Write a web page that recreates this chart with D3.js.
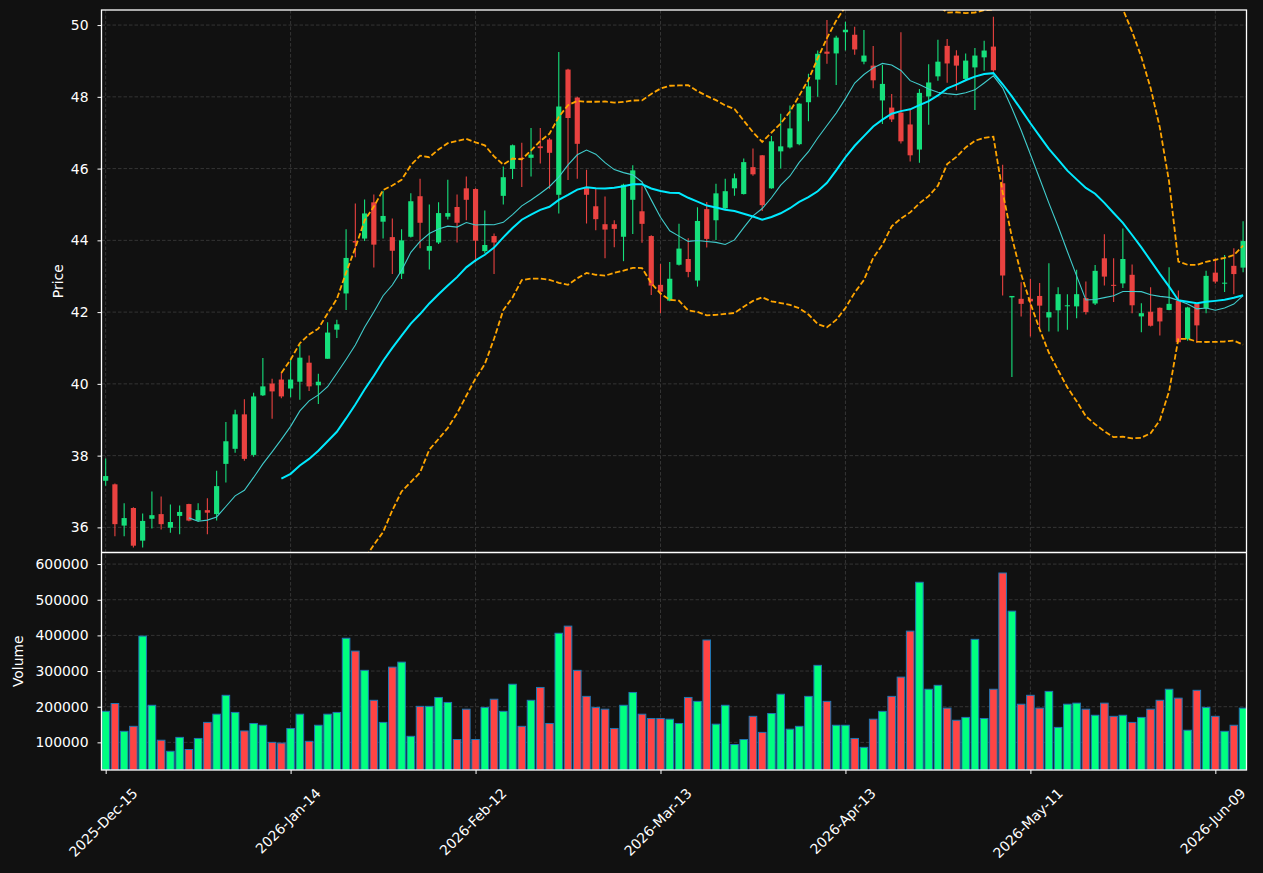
<!DOCTYPE html>
<html>
<head>
<meta charset="utf-8">
<script src="https://cdn.jsdelivr.net/npm/d3@7"></script>
<style>
  body { margin: 0; background: #111111; }
  svg { display: block; }
  text { font-family: "DejaVu Sans", sans-serif; }
</style>
</head>
<body>
<div id="chart"></div>
<script>
// candle data, one entry per trading bar
var opens = [37.30,37.20,36.05,36.54,35.63,36.24,36.37,35.99,36.32,36.65,36.19,36.48,36.37,37.77,38.19,39.15,38.02,39.68,40.01,40.12,
  39.87,40.06,40.59,39.96,40.70,41.51,42.52,43.98,44.05,45.06,44.52,44.09,43.07,44.10,45.23,43.71,43.94,44.66,44.93,45.45,
  45.43,43.70,44.12,45.24,45.99,46.30,46.30,46.62,46.81,45.27,48.76,47.98,45.46,44.95,44.45,44.45,44.10,45.13,44.81,44.12,
  42.76,42.32,43.32,43.48,42.88,44.87,44.56,44.89,45.45,45.29,46.04,46.37,45.45,46.48,46.59,46.68,47.85,48.48,49.26,49.21,
  49.80,49.73,48.98,48.87,47.90,47.70,47.56,47.23,46.53,48.01,48.57,49.42,49.15,48.50,48.82,49.10,49.40,45.59,42.41,42.37,
  42.37,42.45,41.85,42.05,42.17,42.16,42.39,42.24,43.50,42.76,42.80,43.04,41.88,42.01,42.12,42.06,42.32,41.25,42.23,42.11,
  43.10,42.81,43.29,43.24];
var highs = [37.92,37.22,36.67,36.56,36.39,37.00,36.86,36.64,36.61,36.66,36.67,36.81,37.58,38.94,39.28,39.57,39.75,40.72,40.14,40.32,
  40.70,41.09,40.79,40.28,41.72,41.79,44.31,45.03,45.14,45.28,45.38,44.61,44.31,45.31,45.72,45.00,45.06,45.69,45.28,45.78,
  45.45,44.83,44.19,46.06,46.67,46.72,47.13,47.13,46.85,49.25,48.78,48.00,45.97,45.43,45.22,44.56,45.58,46.09,45.51,44.14,
  43.34,43.40,44.46,44.06,44.92,45.07,45.58,45.72,45.86,46.28,46.56,46.38,46.91,47.53,47.76,47.82,48.64,49.29,50.14,49.70,
  50.09,49.95,49.86,49.42,48.89,48.08,49.80,47.63,48.22,48.91,49.59,49.61,49.30,49.21,49.36,49.56,50.23,46.11,42.45,42.83,
  42.93,42.81,43.36,42.69,42.50,43.18,42.85,43.31,44.17,43.50,44.33,43.33,42.25,42.69,42.13,43.25,42.60,42.15,42.25,43.15,
  43.50,43.59,43.78,44.53];
var lows = [37.16,35.75,35.75,35.44,35.44,35.97,35.94,35.85,35.81,36.17,36.16,35.81,36.19,37.25,38.08,37.86,37.97,39.66,39.03,39.60,
  39.63,39.56,39.80,39.44,40.70,41.28,42.06,43.53,43.98,43.24,44.05,43.06,42.92,44.08,43.78,43.19,43.90,44.58,43.94,44.56,
  43.39,43.64,43.06,45.00,45.71,45.49,45.78,46.14,45.44,44.75,45.68,45.72,44.47,44.28,43.50,43.81,43.42,44.18,43.93,42.48,
  41.97,42.30,43.30,42.97,42.71,43.80,44.01,44.85,45.24,45.28,45.80,44.82,45.44,46.00,46.56,46.65,47.32,48.00,48.92,48.33,
  49.29,49.17,48.91,48.24,47.24,47.30,46.70,46.20,46.16,47.22,48.45,48.39,48.18,48.45,47.63,48.73,48.70,42.46,40.19,41.88,
  41.32,41.56,41.46,41.46,41.51,41.83,41.93,42.20,42.74,42.28,42.67,41.97,41.44,41.60,41.35,42.05,41.15,41.20,41.14,41.97,
  42.80,42.56,42.50,43.11];
var closes = [37.43,36.09,36.26,35.49,36.18,36.34,36.09,36.15,36.43,36.19,36.48,36.41,37.15,38.40,39.15,37.91,39.65,39.93,39.79,39.65,
  40.12,40.73,39.93,40.06,41.43,41.66,43.51,43.94,44.75,43.88,44.68,43.71,44.00,45.09,44.49,43.84,44.76,44.76,44.49,45.13,
  43.99,43.87,43.94,45.76,46.65,46.27,46.39,46.57,46.44,47.73,47.41,46.69,45.27,44.59,44.30,44.32,45.55,45.95,44.46,42.74,
  42.57,42.93,43.77,43.12,44.54,44.04,45.31,45.37,45.73,46.18,45.84,44.98,46.76,46.62,47.12,47.81,48.29,49.20,49.20,49.65,
  49.87,49.32,49.15,48.46,48.36,47.37,46.76,46.37,48.11,48.40,48.98,48.93,48.87,49.01,49.15,49.29,48.74,43.02,42.45,42.23,
  42.30,42.18,42.00,42.50,42.19,42.50,42.00,43.15,42.99,42.74,43.48,42.19,41.97,41.62,41.74,42.23,41.16,42.13,41.63,43.01,
  42.85,42.82,43.06,43.98];
var volumes = [187000,209000,131000,145000,398000,204000,106000,75000,114000,80000,111000,156000,179000,232000,184000,132000,153000,148000,100000,98000,
  139000,179000,103000,148000,179000,184000,392000,356000,302000,218000,156000,311000,325000,117000,201000,201000,226000,212000,108000,193000,
  108000,198000,221000,187000,263000,145000,218000,254000,153000,406000,426000,302000,229000,198000,193000,139000,204000,240000,179000,167000,
  167000,165000,153000,226000,215000,387000,151000,204000,94000,108000,173000,128000,181000,235000,137000,145000,229000,316000,215000,148000,
  148000,111000,86000,165000,187000,229000,283000,412000,549000,249000,260000,196000,162000,170000,389000,167000,249000,575000,468000,207000,
  232000,196000,243000,142000,207000,210000,193000,176000,210000,173000,176000,156000,170000,193000,218000,249000,224000,134000,246000,198000,
  173000,131000,148000,196000];

var tickIdx = [0, 20, 40, 60, 80, 100, 120];
var tickLabels = ["2025-Dec-15", "2026-Jan-14", "2026-Feb-12", "2026-Mar-13", "2026-Apr-13", "2026-May-11", "2026-Jun-09"];
var priceTicks = [36, 38, 40, 42, 44, 46, 48, 50];
var volumeTicks = [100000, 200000, 300000, 400000, 500000, 600000];

var W = 1263, H = 873;
var pLeft = 101.5, pRight = 1246.5, pTop = 10, pMid = 552.5, pBottom = 770;
var upCandle = "#16e07c", downCandle = "#ea4240";
var upVol = "#00ff80", downVol = "#ff4444";
var fontSize = "13.9px";

// rolling helpers for the moving averages and bollinger bands
function rolling(arr, n, fn) {
  return arr.map(function(v, i) {
    if (i < n - 1) return null;
    return fn(arr.slice(i - n + 1, i + 1));
  });
}
function pstd(a) {
  var m = d3.mean(a);
  return Math.sqrt(d3.mean(a, function(v) { return (v - m) * (v - m); }));
}
var ma10 = rolling(closes, 10, d3.mean);
var ma20 = rolling(closes, 20, d3.mean);
var sd20 = rolling(closes, 20, pstd);
var bbUp = ma20.map(function(m, i) { return m == null ? null : m + 2 * sd20[i]; });
var bbLo = ma20.map(function(m, i) { return m == null ? null : m - 2 * sd20[i]; });

var svg = d3.select("#chart").append("svg")
  .attr("width", W).attr("height", H)
  .style("background", "#111111");

var x = d3.scaleLinear().domain([-0.45, 123.37]).range([pLeft, pRight]);
var step = x(1) - x(0);
var yP = d3.scaleLinear().domain([35.30, 50.42]).range([pMid, pTop]);
var yV = d3.scaleLinear().domain([0.3 * d3.min(volumes), 1.1 * d3.max(volumes)]).range([pBottom, pMid]);

var defs = svg.append("defs");
defs.append("clipPath").attr("id", "clipP").append("rect")
  .attr("x", pLeft).attr("y", pTop).attr("width", pRight - pLeft).attr("height", pMid - pTop);
defs.append("clipPath").attr("id", "clipV").append("rect")
  .attr("x", pLeft).attr("y", pMid).attr("width", pRight - pLeft).attr("height", pBottom - pMid);

// grid
var grid = svg.append("g").attr("stroke", "#3d3d3d").attr("stroke-width", 0.8).attr("stroke-dasharray", "3.5,2");
grid.selectAll(".gx").data(tickIdx).enter().append("line")
  .attr("x1", function(d) { return x(d); }).attr("x2", function(d) { return x(d); })
  .attr("y1", pTop).attr("y2", pBottom);
grid.selectAll(".gp").data(priceTicks).enter().append("line")
  .attr("x1", pLeft).attr("x2", pRight)
  .attr("y1", function(d) { return yP(d); }).attr("y2", function(d) { return yP(d); });
grid.selectAll(".gv").data(volumeTicks).enter().append("line")
  .attr("x1", pLeft).attr("x2", pRight)
  .attr("y1", function(d) { return yV(d); }).attr("y2", function(d) { return yV(d); });

// candles
var idx = d3.range(closes.length);
var candles = svg.append("g").attr("clip-path", "url(#clipP)");
candles.selectAll(".wick").data(idx).enter().append("line")
  .attr("x1", function(i) { return x(i); }).attr("x2", function(i) { return x(i); })
  .attr("y1", function(i) { return yP(highs[i]); }).attr("y2", function(i) { return yP(lows[i]); })
  .attr("stroke", function(i) { return closes[i] >= opens[i] ? upCandle : downCandle; })
  .attr("stroke-width", 1.1);
candles.selectAll(".body").data(idx).enter().append("rect")
  .attr("x", function(i) { return x(i) - step * 0.28; })
  .attr("width", step * 0.56)
  .attr("y", function(i) { return yP(Math.max(opens[i], closes[i])); })
  .attr("height", function(i) { return Math.max(1, Math.abs(yP(opens[i]) - yP(closes[i]))); })
  .attr("fill", function(i) { return closes[i] >= opens[i] ? upCandle : downCandle; });

// moving averages and bands
var line = d3.line()
  .defined(function(d) { return d != null; })
  .x(function(d, i) { return x(i); })
  .y(function(d) { return yP(d); });
var lines = svg.append("g").attr("clip-path", "url(#clipP)").attr("fill", "none");
lines.append("path").attr("d", line(ma10)).attr("stroke", "#40cccc").attr("stroke-width", 1.1);
lines.append("path").attr("d", line(ma20)).attr("stroke", "#00eaff").attr("stroke-width", 2);
lines.append("path").attr("d", line(bbUp)).attr("stroke", "#ffa500").attr("stroke-width", 1.8).attr("stroke-dasharray", "5.5,2.4");
lines.append("path").attr("d", line(bbLo)).attr("stroke", "#ffa500").attr("stroke-width", 1.8).attr("stroke-dasharray", "5.5,2.4");

// volume
svg.append("g").attr("clip-path", "url(#clipV)")
  .selectAll("rect").data(idx).enter().append("rect")
  .attr("x", function(i) { return x(i) - step * 0.41; })
  .attr("width", step * 0.82)
  .attr("y", function(i) { return yV(volumes[i]); })
  .attr("height", function(i) { return pBottom - yV(volumes[i]); })
  .attr("fill", function(i) { return closes[i] >= opens[i] ? upVol : downVol; })
  .attr("stroke", "#1f77b4").attr("stroke-width", 1);

// axes
function styleAxis(g) {
  g.select(".domain").remove();
  g.selectAll(".tick line").attr("stroke", "#ffffff");
  g.selectAll(".tick text").attr("fill", "#ffffff").style("font-size", fontSize);
}
svg.append("g").attr("transform", "translate(" + pLeft + ",0)")
  .call(d3.axisLeft(yP).tickValues(priceTicks).tickSize(4).tickPadding(9).tickFormat(d3.format("d")))
  .call(styleAxis);
svg.append("g").attr("transform", "translate(" + pLeft + ",0)")
  .call(d3.axisLeft(yV).tickValues(volumeTicks).tickSize(4).tickPadding(9).tickFormat(d3.format("d")))
  .call(styleAxis);
var xAxis = svg.append("g").attr("transform", "translate(0," + pBottom + ")")
  .call(d3.axisBottom(x).tickValues(tickIdx).tickSize(4).tickFormat(function(d, i) { return tickLabels[i]; }))
  .call(styleAxis);
xAxis.selectAll(".tick text")
  .attr("y", 0).attr("dy", null)
  .attr("text-anchor", "middle")
  .attr("dominant-baseline", "central")
  .attr("transform", function() {
    var e = (this.getComputedTextLength() + 16) / Math.SQRT2;
    return "translate(-3," + (15 + e / 2) + ") rotate(-45)";
  });

// spines
var spines = svg.append("g").attr("stroke", "#ffffff").attr("stroke-width", 1.3).attr("fill", "none");
spines.append("rect").attr("x", pLeft).attr("y", pTop).attr("width", pRight - pLeft).attr("height", pBottom - pTop);
spines.append("line").attr("x1", pLeft).attr("x2", pRight).attr("y1", pMid).attr("y2", pMid);

svg.append("text").text("Price")
  .attr("transform", "translate(63," + ((pTop + pMid) / 2) + ") rotate(-90)")
  .attr("text-anchor", "middle").attr("fill", "#ffffff").style("font-size", fontSize);
svg.append("text").text("Volume")
  .attr("transform", "translate(23," + ((pMid + pBottom) / 2) + ") rotate(-90)")
  .attr("text-anchor", "middle").attr("fill", "#ffffff").style("font-size", fontSize);
</script>
</body>
</html>
